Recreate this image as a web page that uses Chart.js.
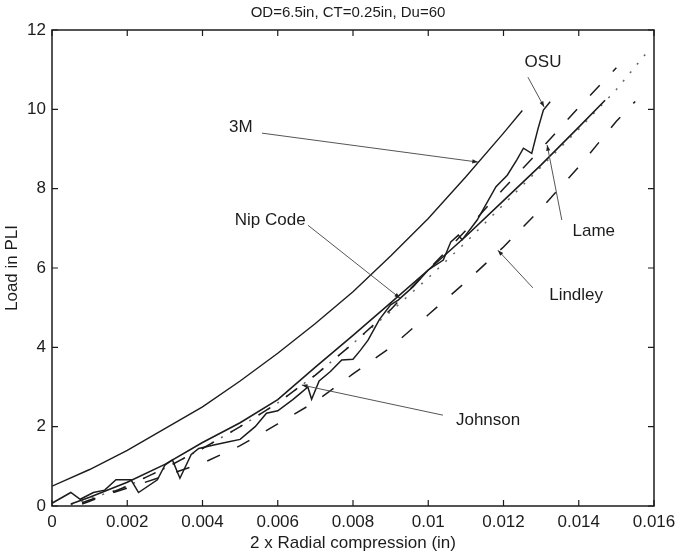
<!DOCTYPE html>
<html>
<head>
<meta charset="utf-8">
<script src="https://cdn.jsdelivr.net/npm/chart.js@4.4.1/dist/chart.umd.min.js"></script>
<style>
html,body{margin:0;padding:0;background:#fff;}
canvas{display:block;}
</style>
</head>
<body>
<canvas id="c" width="688" height="556"></canvas>
<script>
// ---- data ----
const xTicks = [0, 0.002, 0.004, 0.006, 0.008, 0.010, 0.012, 0.014, 0.016];
const yTicks = [0, 2, 4, 6, 8, 10, 12];

const m3X = [0, 0.001, 0.002, 0.003, 0.004, 0.005, 0.006, 0.007, 0.008, 0.009, 0.010, 0.011, 0.012, 0.0125];
const m3Y = [0.5, 0.92, 1.4, 1.95, 2.5, 3.15, 3.85, 4.6, 5.4, 6.3, 7.25, 8.3, 9.4, 9.97];

const osuX = [0, 0.0005, 0.00075, 0.0011, 0.0014, 0.0017, 0.0021, 0.0023, 0.0028, 0.0030, 0.0032, 0.0034, 0.0037, 0.0039, 0.0043, 0.0047, 0.0050, 0.0054, 0.0057, 0.0060, 0.0064, 0.0066, 0.0068, 0.0069, 0.0071, 0.0074, 0.0077, 0.0080, 0.0082, 0.0084, 0.0087, 0.0090, 0.0092, 0.0096, 0.0100, 0.0104, 0.0106, 0.0108, 0.0109, 0.0113, 0.0118, 0.0121, 0.01235, 0.01253, 0.01275, 0.01292, 0.01306, 0.01324];
const osuY = [0.07, 0.34, 0.17, 0.34, 0.4, 0.66, 0.66, 0.34, 0.66, 1.03, 1.16, 0.7, 1.3, 1.45, 1.54, 1.62, 1.68, 2.0, 2.34, 2.4, 2.68, 2.84, 3.0, 2.69, 3.15, 3.39, 3.68, 3.7, 3.93, 4.18, 4.7, 5.07, 5.19, 5.53, 5.95, 6.2, 6.66, 6.83, 6.71, 7.21, 8.05, 8.34, 8.72, 9.02, 8.89, 9.52, 9.98, 10.19];

const nipX = [0.0005, 0.001, 0.002, 0.003, 0.004, 0.005, 0.006, 0.007, 0.008, 0.009, 0.010, 0.011, 0.012, 0.013, 0.014, 0.0147];
const nipY = [0.05, 0.22, 0.6, 1.05, 1.6, 2.1, 2.68, 3.5, 4.3, 5.12, 5.95, 6.8, 7.7, 8.6, 9.55, 10.23];

const lameX = [0.0008, 0.001, 0.002, 0.003, 0.004, 0.005, 0.006, 0.007, 0.008, 0.009, 0.010, 0.011, 0.012, 0.013, 0.014, 0.015];
const lameY = [0.05, 0.12, 0.5, 0.95, 1.45, 2.0, 2.6, 3.3, 4.1, 4.95, 5.95, 6.95, 8.0, 9.0, 10.05, 11.05];

const johnsonX = [0.0005, 0.001, 0.002, 0.003, 0.004, 0.005, 0.006, 0.007, 0.008, 0.009, 0.010, 0.011, 0.012, 0.013, 0.014, 0.015, 0.0158];
const johnsonY = [0.03, 0.18, 0.5, 0.95, 1.45, 2.0, 2.6, 3.3, 4.1, 4.9, 5.75, 6.65, 7.6, 8.55, 9.5, 10.5, 11.42];

const lindleyX = [0.0008, 0.001, 0.002, 0.003, 0.004, 0.005, 0.006, 0.007, 0.008, 0.009, 0.010, 0.011, 0.012, 0.013, 0.014, 0.015, 0.0155];
const lindleyY = [0.08, 0.15, 0.45, 0.76, 1.08, 1.52, 2.07, 2.63, 3.33, 4.0, 4.82, 5.65, 6.53, 7.5, 8.55, 9.7, 10.2];

const labelNames = ['3M', 'OSU', 'Nip Code', 'Lame', 'Lindley', 'Johnson'];
const chartTitle = 'OD=6.5in, CT=0.25in, Du=60';

// ---- annotation placement (data coordinates) ----
const annotations = [
  { text: '3M',       tx: 0.00502, ty: 9.55, from: [0.00558, 9.40], to: [0.01132, 8.67] },
  { text: 'OSU',      tx: 0.01305, ty: 11.19, from: [0.01265, 10.81], to: [0.01308, 10.06] },
  { text: 'Nip Code', tx: 0.0058,  ty: 7.2, from: [0.0068, 7.08], to: [0.00925, 5.24] },
  { text: 'Lame',     tx: 0.0144,  ty: 6.93, from: [0.01355, 7.21], to: [0.01316, 9.10] },
  { text: 'Lindley',  tx: 0.01393, ty: 5.32, from: [0.01278, 5.50], to: [0.01185, 6.45] },
  { text: 'Johnson',  tx: 0.01159, ty: 2.17, from: [0.01039, 2.29], to: [0.00664, 3.05] }
];

const FONT = '"Liberation Sans", Arial, Helvetica, sans-serif';
const INK = '#1c1c1c';

function pts(xs, ys) { return xs.map((x, i) => ({ x: x, y: ys[i] })); }

const boxPlugin = {
  id: 'boxTicks',
  afterDatasetsDraw(chart) {
    const { ctx, chartArea: a, scales } = chart;
    const sx = scales.x, sy = scales.y;
    ctx.save();
    ctx.strokeStyle = INK;
    ctx.lineWidth = 1.5;
    ctx.strokeRect(a.left, a.top, a.right - a.left, a.bottom - a.top);
    ctx.lineWidth = 1.2;
    const L = 6;
    ctx.beginPath();
    xTicks.forEach(v => {
      const p = sx.getPixelForValue(v);
      ctx.moveTo(p, a.bottom); ctx.lineTo(p, a.bottom - L);
      ctx.moveTo(p, a.top); ctx.lineTo(p, a.top + L);
    });
    yTicks.forEach(v => {
      const p = sy.getPixelForValue(v);
      ctx.moveTo(a.left, p); ctx.lineTo(a.left + L, p);
      ctx.moveTo(a.right, p); ctx.lineTo(a.right - L, p);
    });
    ctx.stroke();
    ctx.fillStyle = INK;
    ctx.font = '15px ' + FONT;
    ctx.textAlign = 'center';
    ctx.textBaseline = 'middle';
    ctx.fillText(chartTitle, (a.left + a.right) / 2 - 5, a.top - 17);
    ctx.restore();
  }
};

const labelPlugin = {
  id: 'curveLabels',
  afterDatasetsDraw(chart) {
    const { ctx, scales } = chart;
    const sx = scales.x, sy = scales.y;
    ctx.save();
    annotations.forEach(an => {
      const x1 = sx.getPixelForValue(an.from[0]), y1 = sy.getPixelForValue(an.from[1]);
      const x2 = sx.getPixelForValue(an.to[0]), y2 = sy.getPixelForValue(an.to[1]);
      ctx.strokeStyle = '#555';
      ctx.lineWidth = 1;
      ctx.beginPath(); ctx.moveTo(x1, y1); ctx.lineTo(x2, y2); ctx.stroke();
      const ang = Math.atan2(y2 - y1, x2 - x1);
      ctx.fillStyle = '#222';
      ctx.beginPath();
      ctx.moveTo(x2, y2);
      ctx.lineTo(x2 - 6 * Math.cos(ang - 0.35), y2 - 6 * Math.sin(ang - 0.35));
      ctx.lineTo(x2 - 6 * Math.cos(ang + 0.35), y2 - 6 * Math.sin(ang + 0.35));
      ctx.closePath(); ctx.fill();
      ctx.fillStyle = INK;
      ctx.font = '17px ' + FONT;
      ctx.textAlign = 'center';
      ctx.textBaseline = 'middle';
      ctx.fillText(an.text, sx.getPixelForValue(an.tx), sy.getPixelForValue(an.ty));
    });
    ctx.restore();
  }
};

function fmtX(v) {
  const r = Math.round(v * 1000) / 1000;
  return r === 0 ? '0' : String(r);
}

new Chart(document.getElementById('c'), {
  type: 'line',
  data: {
    datasets: [
      { label: labelNames[0], data: pts(m3X, m3Y), borderColor: INK, borderWidth: 1.4 },
      { label: labelNames[1], data: pts(osuX, osuY), borderColor: INK, borderWidth: 1.5 },
      { label: labelNames[2], data: pts(nipX, nipY), borderColor: INK, borderWidth: 1.6 },
      { label: labelNames[3], data: pts(lameX, lameY), borderColor: INK, borderWidth: 1.5, borderDash: [14, 19] },
      { label: labelNames[4], data: pts(lindleyX, lindleyY), borderColor: INK, borderWidth: 1.5, borderDash: [14, 19] },
      { label: labelNames[5], data: pts(johnsonX, johnsonY), borderColor: '#666', borderWidth: 1.5, borderDash: [2, 9] }
    ]
  },
  options: {
    responsive: false,
    devicePixelRatio: 1,
    animation: false,
    elements: { point: { radius: 0 }, line: { tension: 0, fill: false } },
    layout: { padding: { left: 0, right: 34, top: 30, bottom: 0 } },
    plugins: {
      legend: { display: false },
      tooltip: { enabled: false },
      title: { display: false }
    },
    scales: {
      x: {
        type: 'linear',
        min: 0, max: 0.016,
        afterBuildTicks: s => { s.ticks = xTicks.map(v => ({ value: v })); },
        afterFit: s => { s.height = 50; },
        grid: { display: false, drawTicks: false },
        border: { display: false },
        ticks: { color: INK, font: { family: FONT, size: 17 }, padding: 6, maxRotation: 0, autoSkip: false, callback: v => fmtX(v) },
        title: { display: true, text: '2 x Radial compression (in)', color: INK, font: { family: FONT, size: 17 }, padding: { top: 0, bottom: 2 } }
      },
      y: {
        type: 'linear',
        min: 0, max: 12,
        afterBuildTicks: s => { s.ticks = yTicks.map(v => ({ value: v })); },
        afterFit: s => { s.width = 52; },
        grid: { display: false, drawTicks: false },
        border: { display: false },
        ticks: { color: INK, font: { family: FONT, size: 17 }, padding: 6, autoSkip: false },
        title: { display: true, text: 'Load in PLI', color: INK, font: { family: FONT, size: 17 }, padding: { top: 2, bottom: 0 } }
      }
    }
  },
  plugins: [boxPlugin, labelPlugin]
});
</script>
</body>
</html>
